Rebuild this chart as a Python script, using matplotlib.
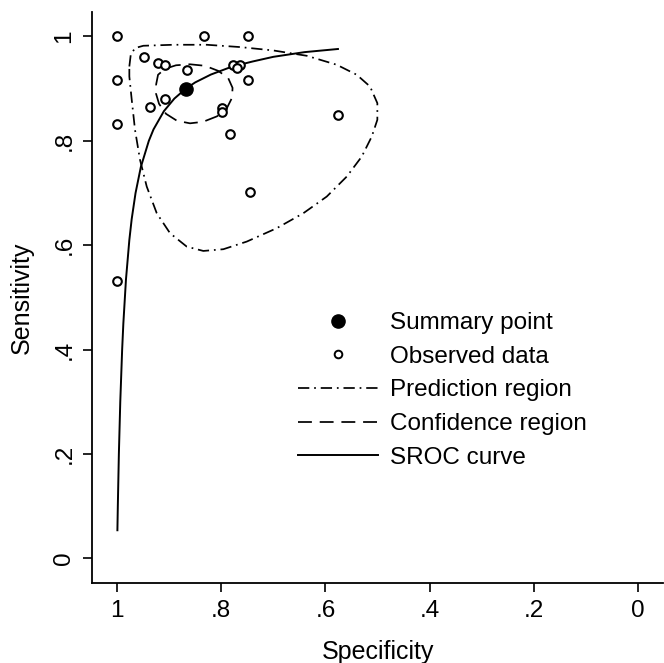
import matplotlib
matplotlib.use("Agg")
import matplotlib.pyplot as plt
from matplotlib.lines import Line2D

plt.rcParams['font.family'] = ['Liberation Sans', 'DejaVu Sans']

# Observed study data (specificity, sensitivity)
obs_spec = [1.000, 0.833, 0.749, 0.948, 0.922, 0.908, 0.866, 0.777, 0.764, 0.769,
            1.000, 0.749, 0.908, 0.937, 0.799, 0.799, 1.000, 0.784, 0.576, 0.745,
            1.000]
obs_sens = [1.000, 1.000, 1.000, 0.960, 0.949, 0.946, 0.936, 0.946, 0.946, 0.939,
            0.916, 0.916, 0.880, 0.865, 0.862, 0.856, 0.832, 0.813, 0.849, 0.702,
            0.532]

# Summary point
sum_spec = [0.868]
sum_sens = [0.900]

# SROC curve points
sroc_spec = [0.9993, 0.9985, 0.9965, 0.9938, 0.9902, 0.9879, 0.9829, 0.9764, 0.9719,
             0.9645, 0.9543, 0.9390, 0.930, 0.910, 0.890, 0.868, 0.850, 0.820, 0.780,
             0.740, 0.700, 0.640, 0.576]
sroc_sens = [0.054, 0.100, 0.200, 0.300, 0.400, 0.450, 0.534, 0.610, 0.650,
             0.700, 0.750, 0.800, 0.822, 0.857, 0.881, 0.900, 0.912, 0.927, 0.942,
             0.952, 0.961, 0.970, 0.976]

# Confidence region contour
conf_spec = [0.9251, 0.9213, 0.9079, 0.8868, 0.8599, 0.8311, 0.8061, 0.7869, 0.7783,
             0.7793, 0.7889, 0.8081, 0.8349, 0.8599, 0.8848, 0.9060, 0.9194, 0.9251, 0.9251]
conf_sens = [0.9074, 0.9266, 0.9381, 0.9448, 0.9467, 0.9438, 0.9342, 0.9208, 0.9016,
             0.8825, 0.8633, 0.8470, 0.8365, 0.8336, 0.8384, 0.8518, 0.8710, 0.8902, 0.9074]

# Prediction region contour
pred_spec = [0.9764, 0.9737, 0.9655, 0.9495, 0.8919, 0.8278, 0.7639, 0.7000, 0.6359,
             0.5783, 0.5399, 0.5144, 0.5004, 0.5004, 0.5111, 0.5303, 0.5591, 0.5975,
             0.6424, 0.6935, 0.7511, 0.7960, 0.8344, 0.8662, 0.8983, 0.9238, 0.9430,
             0.9559, 0.9655, 0.9718, 0.9764, 0.9764]
pred_sens = [0.9425, 0.9649, 0.9778, 0.9822, 0.9841, 0.9841, 0.9797, 0.9732, 0.9630,
             0.9458, 0.9266, 0.9041, 0.8723, 0.8403, 0.8083, 0.7699, 0.7316, 0.6933,
             0.6614, 0.6327, 0.6070, 0.5924, 0.5891, 0.5974, 0.6231, 0.6614, 0.7124,
             0.7636, 0.8211, 0.8787, 0.9233, 0.9425]

tick_vals = [0, 0.2, 0.4, 0.6, 0.8, 1]
tick_labels = ['0', '.2', '.4', '.6', '.8', '1']

fig = plt.figure(figsize=(6.64, 6.63), dpi=100)
ax = fig.add_axes([0.1386, 0.1207, 0.860, 0.8613])

lw = 1.25
pred_ls = (0, (6.5, 2.8, 1, 2.8))
conf_ls = (0, (8, 4.5))
ax.plot(pred_spec, pred_sens, color='black', lw=lw, linestyle=pred_ls)
ax.plot(conf_spec, conf_sens, color='black', lw=lw, linestyle=conf_ls)
ax.plot(sroc_spec, sroc_sens, color='black', lw=1.4, linestyle='-')
ax.plot(obs_spec, obs_sens, linestyle='none', marker='o', markersize=6.2,
        markerfacecolor='white', markeredgecolor='black', markeredgewidth=1.5)
ax.plot(sum_spec, sum_sens, linestyle='none', marker='o', markersize=9.5,
        color='black')

ax.set_xlim(1.048, -0.048)
ax.set_ylim(-0.047, 1.047)
ax.set_xticks(tick_vals)
ax.set_xticklabels(tick_labels)
ax.set_yticks(tick_vals)
ax.set_yticklabels(tick_labels, rotation=90, va='center')
ax.tick_params(axis='both', length=6.5, width=1.2, labelsize=17.5, pad=5.5)
for s in ['top', 'right']:
    ax.spines[s].set_visible(False)
for s in ['left', 'bottom']:
    ax.spines[s].set_linewidth(1.3)

ax.set_xlabel('Specificity', fontsize=18, labelpad=13)
ax.set_ylabel('Sensitivity', fontsize=18, labelpad=14)

handles = [
    Line2D([], [], linestyle='none', marker='o', markersize=9.5, color='black'),
    Line2D([], [], linestyle='none', marker='o', markersize=5.5,
           markerfacecolor='white', markeredgecolor='black', markeredgewidth=1.4),
    Line2D([], [], color='black', lw=lw, linestyle=pred_ls),
    Line2D([], [], color='black', lw=lw, linestyle=conf_ls),
    Line2D([], [], color='black', lw=1.4, linestyle='-'),
]
labels = ['Summary point', 'Observed data', 'Prediction region',
          'Confidence region', 'SROC curve']
leg = fig.legend(handles, labels, loc='upper left',
                 bbox_to_anchor=(298 / 664, 1 - 312 / 663),
                 frameon=False, fontsize=17.5, handlelength=3.3,
                 handletextpad=0.48, labelspacing=0.48, borderpad=0,
                 borderaxespad=0)

fig.savefig('out.png', dpi=100)
